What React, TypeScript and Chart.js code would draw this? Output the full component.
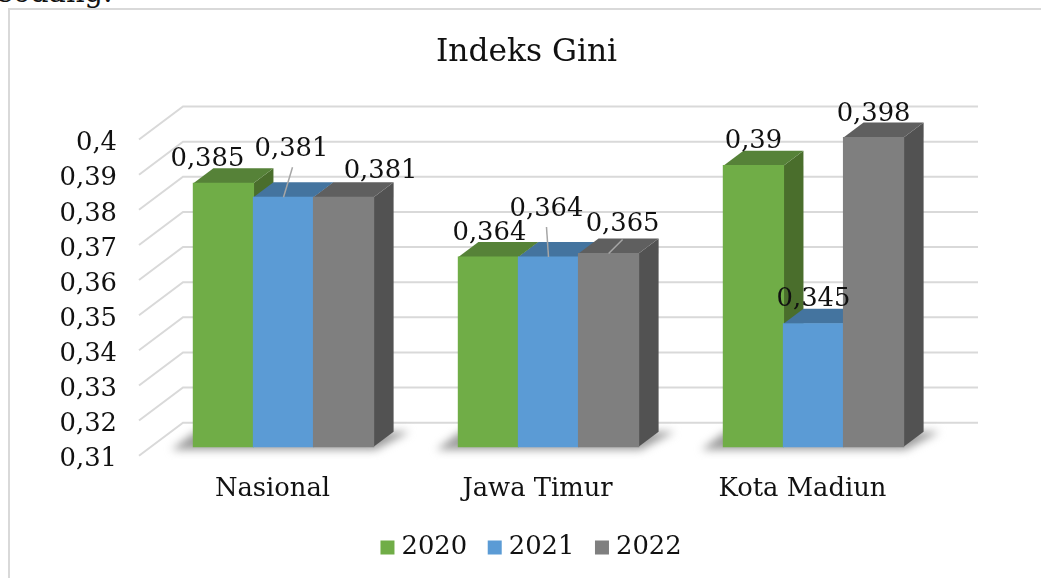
import React, { useEffect, useRef } from "react";
import { Chart, registerables } from "chart.js";

Chart.register(...registerables);

const categories = ["Nasional", "Jawa Timur", "Kota Madiun"];
const seriesNames = ["2020", "2021", "2022"];
const values2020 = [0.385, 0.364, 0.39];
const values2021 = [0.381, 0.364, 0.345];
const values2022 = [0.381, 0.365, 0.398];
const valueLabels2020 = ["0,385", "0,364", "0,39"];
const valueLabels2021 = ["0,381", "0,364", "0,345"];
const valueLabels2022 = ["0,381", "0,365", "0,398"];
const yTickLabels = ["0,31", "0,32", "0,33", "0,34", "0,35", "0,36", "0,37", "0,38", "0,39", "0,4"];

const FONT = "'DejaVu Serif'";
const INK = "#111111";
const GRID = "#d9d9d9";
const frontColors = ["#70AD47", "#5B9BD5", "#7F7F7F"];
const topColors = ["#568238", "#44749F", "#5F5F5F"];
const sideColors = ["#4A6E2C", "#3A6288", "#525252"];
const valueLabels = [valueLabels2020, valueLabels2021, valueLabels2022];
// label placement relative to the top-centre of each bar front, with optional leader
const labelPlacement = [
  [{ dx: -16, dy: -24 }, { dx: 1, dy: -24 }, { dx: 0, dy: -24 }],
  [{ dx: 8, dy: -48, leader: [9, -30] }, { dx: -2, dy: -48, leader: [-2, -30] }, { dx: 0, dy: -24 }],
  [{ dx: 37, dy: -26 }, { dx: 14, dy: -29, leader: [14, -14] }, { dx: 0, dy: -23 }],
];

const DEPTH_X = 20;
const DEPTH_Y = 15;
const WALL_BACK_X = 32;
const WALL_BACK_Y = 24;
const WALL_FRONT_X = 12;
const WALL_FRONT_Y = 9;

const poly = (ctx: CanvasRenderingContext2D, pts: number[][], fill: string) => {
  ctx.beginPath();
  pts.forEach(([x, y], i) => (i ? ctx.lineTo(x, y) : ctx.moveTo(x, y)));
  ctx.closePath();
  ctx.fillStyle = fill;
  ctx.fill();
};

const threeD = {
  id: "threeD",
  beforeDatasetsDraw(chart: any) {
    const { ctx, scales, chartArea } = chart;
    const y = scales.y;
    ctx.save();
    ctx.strokeStyle = GRID;
    ctx.lineWidth = 2;
    y.ticks.forEach((t: any) => {
      const p = y.getPixelForValue(t.value);
      ctx.beginPath();
      ctx.moveTo(chartArea.left - WALL_FRONT_X, p + WALL_FRONT_Y);
      ctx.lineTo(chartArea.left + WALL_BACK_X, p - WALL_BACK_Y);
      ctx.lineTo(chartArea.right + WALL_BACK_X, p - WALL_BACK_Y);
      ctx.stroke();
    });
    // floor shadows under every cluster
    const first = chart.getDatasetMeta(0).data;
    const last = chart.getDatasetMeta(2).data;
    const b = chartArea.bottom;
    ctx.filter = "blur(4px)";
    first.forEach((el: any, i: number) => {
      const l = el.x - el.width / 2;
      const r = last[i].x + last[i].width / 2;
      poly(ctx, [[l - 22, b + 3], [r + 2, b + 3], [r + 36, b - 15], [l + 2, b - 15]], "#9c9c9c");
    });
    ctx.restore();
    // series are painted left to right so each one overlaps the previous one
    [0, 1, 2].forEach((i) => {
      const meta = chart.getDatasetMeta(i);
      meta.data.forEach((el: any) => {
        const l = el.x - el.width / 2;
        const r = el.x + el.width / 2;
        const t = el.y;
        const base = y.getPixelForValue(y.min);
        poly(ctx, [[r, t], [r + DEPTH_X, t - DEPTH_Y], [r + DEPTH_X, base - DEPTH_Y], [r, base]], sideColors[i]);
        poly(ctx, [[l, t], [l + DEPTH_X, t - DEPTH_Y], [r + DEPTH_X, t - DEPTH_Y], [r, t]], topColors[i]);
      });
      meta.controller.draw();
    });
  },
  beforeDatasetDraw() {
    return false;
  },
  afterDatasetsDraw(chart: any) {
    const { ctx } = chart;
    ctx.save();
    ctx.font = `25.8px ${FONT}`;
    ctx.textAlign = "center";
    ctx.textBaseline = "middle";
    valueLabels.forEach((labels, ds) => {
      const els = chart.getDatasetMeta(ds).data;
      labels.forEach((txt, i) => {
        const el = els[i];
        const pl: any = labelPlacement[ds][i];
        if (pl.leader) {
          ctx.strokeStyle = "#a6a6a6";
          ctx.lineWidth = 1.5;
          ctx.beginPath();
          ctx.moveTo(el.x + pl.leader[0], el.y + pl.leader[1]);
          ctx.lineTo(el.x, el.y);
          ctx.stroke();
        }
        ctx.fillStyle = INK;
        ctx.fillText(txt, el.x + pl.dx, el.y + pl.dy);
      });
    });
    ctx.restore();
  },
  afterLayout(chart: any) {
    chart.legend.left += 55.5;
    chart.legend.right += 55.5;
    chart.titleBlock.left += 48;
    chart.titleBlock.right += 48;
  },
};

export default function App() {
  const ref = useRef<HTMLCanvasElement>(null);
  useEffect(() => {
    const chart = new Chart(ref.current as HTMLCanvasElement, {
      type: "bar",
      plugins: [threeD],
      data: {
        labels: categories,
        datasets: [values2020, values2021, values2022].map((data, i) => ({
          label: seriesNames[i],
          data,
          base: 0.31,
          backgroundColor: frontColors[i],
          borderWidth: 0,
          inflateAmount: 0.6,
          categoryPercentage: 0.68,
          barPercentage: 1,
        })),
      },
      options: {
        animation: false,
        responsive: false,
        layout: { padding: { top: 34, right: 95, left: 0, bottom: 7.5 } },
        plugins: {
          tooltip: { enabled: false },
          title: {
            display: true,
            text: "Indeks Gini",
            color: INK,
            font: { family: FONT, size: 31.3, weight: "normal" },
            padding: { top: 0, bottom: 59 },
          },
          legend: {
            position: "bottom",
            labels: {
              color: INK,
              font: { family: FONT, size: 25.8 },
              usePointStyle: true,
              pointStyle: "rect",
              boxWidth: 2.2,
              boxHeight: 14,
              padding: 26.5,
            },
          },
        },
        scales: {
          x: {
            grid: { display: false },
            border: { display: false },
            ticks: { color: INK, font: { family: FONT, size: 25.8 }, labelOffset: -11, padding: 19, maxRotation: 0 },
            afterFit: (s: any) => { s.height = 61.5; },
          },
          y: {
            min: 0.31,
            max: 0.4,
            grid: { display: false, drawTicks: false },
            border: { display: false },
            ticks: {
              stepSize: 0.01,
              color: INK,
              font: { family: FONT, size: 25.8 },
              padding: 34,
              labelOffset: 13,
              callback: (_: any, i: number) => yTickLabels[i],
            },
            afterFit: (s: any) => { s.width = 140; },
          },
        } as any,
      } as any,
    });
    return () => chart.destroy();
  }, []);
  return (
    <div style={{ position: "absolute", left: 0, top: 0, width: 1041, height: 578, overflow: "hidden", background: "#fff" }}>
      <div style={{ position: "absolute", left: 8, top: 8, width: 1100, height: 700, borderLeft: `2px solid ${GRID}`, borderTop: `2px solid ${GRID}` }} />
      <span style={{ position: "absolute", left: -2, top: -26, fontFamily: FONT, fontSize: 29, lineHeight: "36px", color: INK }}>sedang.</span>
      <canvas ref={ref} width={1030} height={578} style={{ position: "absolute", left: 11, top: 0, display: "block" }} />
    </div>
  );
}
